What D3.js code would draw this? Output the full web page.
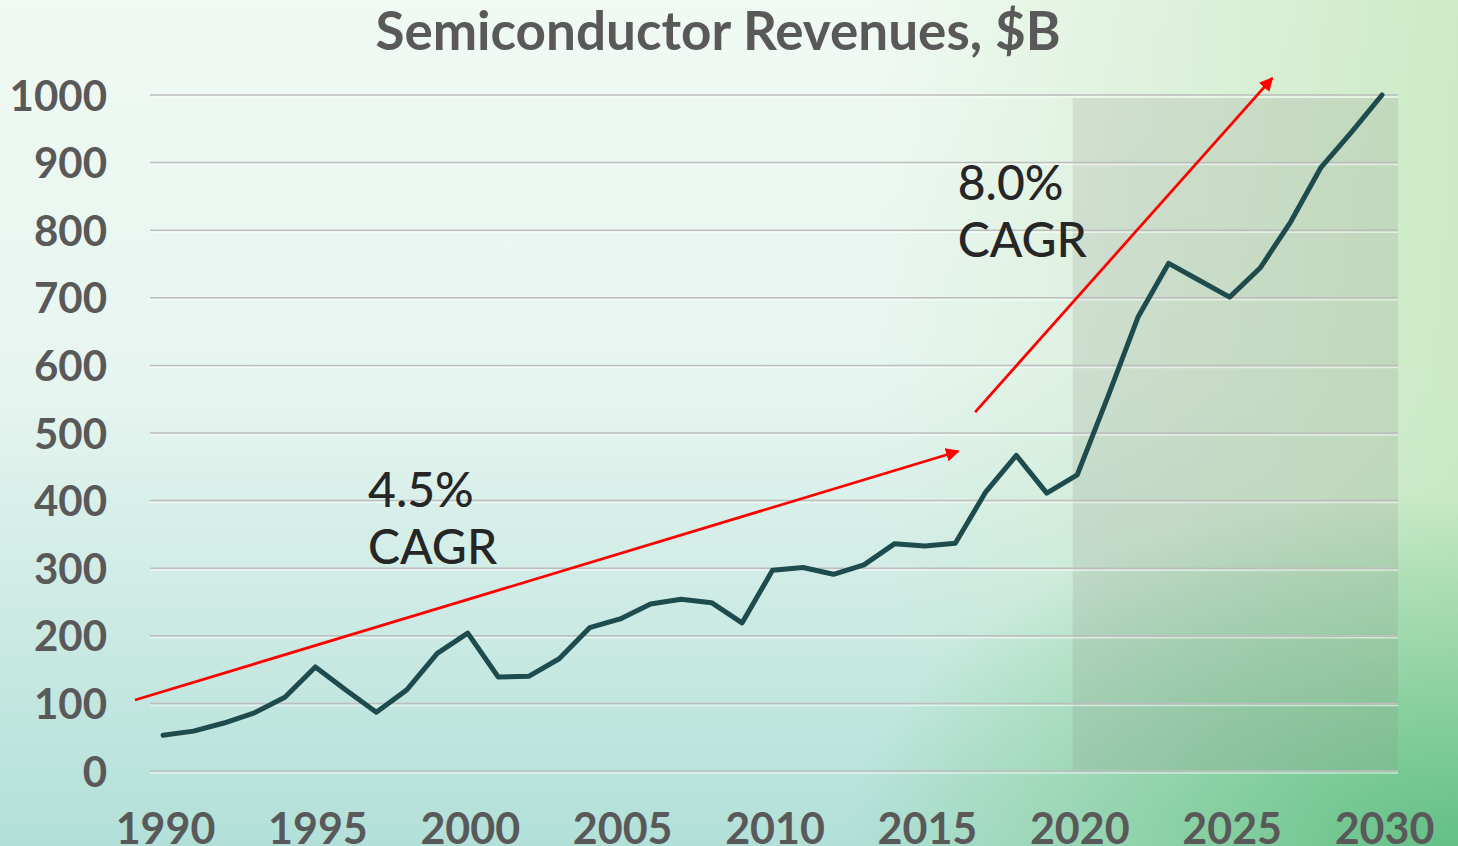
<!DOCTYPE html>
<html>
<head>
<meta charset="utf-8">
<title>Semiconductor Revenues</title>
<script src="https://d3js.org/d3.v7.min.js"></script>
<style>
  html, body { margin: 0; padding: 0; overflow: hidden; }
  body { width: 1458px; height: 846px; }
  text { font-family: Lato, "Open Sans", sans-serif; }
</style>
</head>
<body>
<script>

// revenues, $B
var years = d3.range(1990, 2031);
var revenue = [53, 59, 71, 86, 109, 154, 120, 87, 120, 174,
               204, 139, 140, 166, 212, 225, 247, 254, 249, 219,
               297, 301, 291, 305, 336, 333, 337, 413, 467, 411,
               438, 553, 672, 751, 726, 701, 744, 812, 893, 945, 1000];

var yTicks = d3.range(0, 1001, 100);
var xTicks = [1990, 1995, 2000, 2005, 2010, 2015, 2020, 2025, 2030];

// trend arrows: [year, value] start -> end, label anchor [year, value]
var trendArrows = [
  { from: [1989.08, 105], to: [2016.1, 473], label: ["4.5%", "CAGR"], at: [1996.73, 390] },
  { from: [2016.65, 531], to: [2026.4, 1025], label: ["8.0%", "CAGR"], at: [2016.08, 845] }
];
var forecastStart = 2019.85;

var width = 1458,
    height = 846;

var x = d3.scaleLinear()
    .domain([1990, 2030])
    .range([163, 1382]);

var y = d3.scaleLinear()
    .domain([0, 1000])
    .range([771, 95]);

var plotLeft = 150, plotRight = 1398;

var svg = d3.select("body").append("svg")
    .attr("width", width)
    .attr("height", height);

var defs = svg.append("defs");

var vg = defs.append("linearGradient").attr("id", "bgV")
    .attr("x1", 0).attr("y1", 0).attr("x2", 0).attr("y2", 1);
vg.append("stop").attr("offset", "0%").attr("stop-color", "#f1f9f3");
vg.append("stop").attr("offset", "45%").attr("stop-color", "#e7f5f0");
vg.append("stop").attr("offset", "100%").attr("stop-color", "#b2e0d8");

var hg = defs.append("linearGradient").attr("id", "bgH")
    .attr("x1", 0).attr("y1", 0).attr("x2", 1).attr("y2", 0);
hg.append("stop").attr("offset", "60%").attr("stop-color", "#c6e8bd").attr("stop-opacity", 0);
hg.append("stop").attr("offset", "100%").attr("stop-color", "#c6e8bd").attr("stop-opacity", 0.85);

var rg = defs.append("radialGradient").attr("id", "bgR")
    .attr("cx", 1).attr("cy", 1).attr("r", 0.42);
rg.append("stop").attr("offset", "0%").attr("stop-color", "#62c085").attr("stop-opacity", 1);
rg.append("stop").attr("offset", "100%").attr("stop-color", "#62c085").attr("stop-opacity", 0);

svg.append("rect").attr("width", width).attr("height", height).attr("fill", "url(#bgV)");
svg.append("rect").attr("width", width).attr("height", height).attr("fill", "url(#bgH)");
svg.append("rect").attr("width", width).attr("height", height).attr("fill", "url(#bgR)");

defs.append("marker")
    .attr("id", "arrowhead")
    .attr("viewBox", "0 0 10 10")
    .attr("refX", 9).attr("refY", 5)
    .attr("markerWidth", 5).attr("markerHeight", 5)
    .attr("markerUnits", "strokeWidth")
    .attr("orient", "auto")
  .append("path")
    .attr("d", "M0,0 L10,5 L0,10 Z")
    .attr("fill", "#ff0000");

// title
svg.append("text")
    .attr("x", 718)
    .attr("y", 50)
    .attr("text-anchor", "middle")
    .attr("font-size", 53)
    .attr("font-weight", "bold")
    .attr("fill", "#595959")
    .text("Semiconductor Revenues, $B");

// forecast shading
svg.append("rect")
    .attr("x", x(forecastStart))
    .attr("y", y(1000) + 3)
    .attr("width", plotRight - x(forecastStart))
    .attr("height", y(0) - y(1000) - 3)
    .attr("fill", "#8e9088")
    .attr("fill-opacity", 0.2);

// gridlines
var grid = svg.append("g");
grid.selectAll(".g1").data(yTicks).enter().append("line")
    .attr("x1", plotLeft).attr("x2", plotRight)
    .attr("y1", function(d) { return y(d); })
    .attr("y2", function(d) { return y(d); })
    .attr("stroke", "#bdbdbd")
    .attr("stroke-width", 1.5);
grid.selectAll(".g2").data(yTicks).enter().append("line")
    .attr("x1", plotLeft).attr("x2", plotRight)
    .attr("y1", function(d) { return y(d) + 2; })
    .attr("y2", function(d) { return y(d) + 2; })
    .attr("stroke", "#ffffff")
    .attr("stroke-opacity", 0.55)
    .attr("stroke-width", 1.5);

// axes (labels only)
var yAxis = svg.append("g")
    .attr("transform", "translate(107,0)")
    .call(d3.axisLeft(y).tickValues(yTicks).tickFormat(d3.format("d")).tickSize(0).tickPadding(0));
yAxis.select(".domain").remove();
yAxis.selectAll("text")
    .attr("font-family", "Lato, sans-serif")
    .attr("font-size", 42)
    .attr("font-weight", "bold")
    .attr("fill", "#595959")
    .attr("dy", "0.36em");

var xAxis = svg.append("g")
    .attr("transform", "translate(2,813)")
    .call(d3.axisBottom(x).tickValues(xTicks).tickFormat(d3.format("d")).tickSize(0).tickPadding(0));
xAxis.select(".domain").remove();
xAxis.selectAll("text")
    .attr("font-family", "Lato, sans-serif")
    .attr("font-size", 43)
    .attr("font-weight", "bold")
    .attr("fill", "#595959");

// revenue line
var line = d3.line()
    .x(function(d, i) { return x(years[i]); })
    .y(function(d) { return y(d); });

svg.append("path")
    .datum(revenue)
    .attr("d", line)
    .attr("fill", "none")
    .attr("stroke", "#1e4c4e")
    .attr("stroke-width", 5)
    .attr("stroke-linejoin", "round")
    .attr("stroke-linecap", "round");

// CAGR arrows + labels
svg.selectAll(".trend").data(trendArrows).enter().append("line")
    .attr("x1", function(d) { return x(d.from[0]); })
    .attr("y1", function(d) { return y(d.from[1]); })
    .attr("x2", function(d) { return x(d.to[0]); })
    .attr("y2", function(d) { return y(d.to[1]); })
    .attr("stroke", "#ff0000")
    .attr("stroke-width", 2.75)
    .attr("marker-end", "url(#arrowhead)");

trendArrows.forEach(function(a) {
  var t = svg.append("text")
      .attr("x", x(a.at[0]))
      .attr("y", y(a.at[1]))
      .attr("font-size", 48)
      .attr("font-weight", 500)
      .attr("fill", "#262626");
  a.label.forEach(function(s, i) {
    t.append("tspan")
        .attr("x", x(a.at[0]))
        .attr("dy", i === 0 ? 0 : 57)
        .text(s);
  });
});

</script>
</body>
</html>
